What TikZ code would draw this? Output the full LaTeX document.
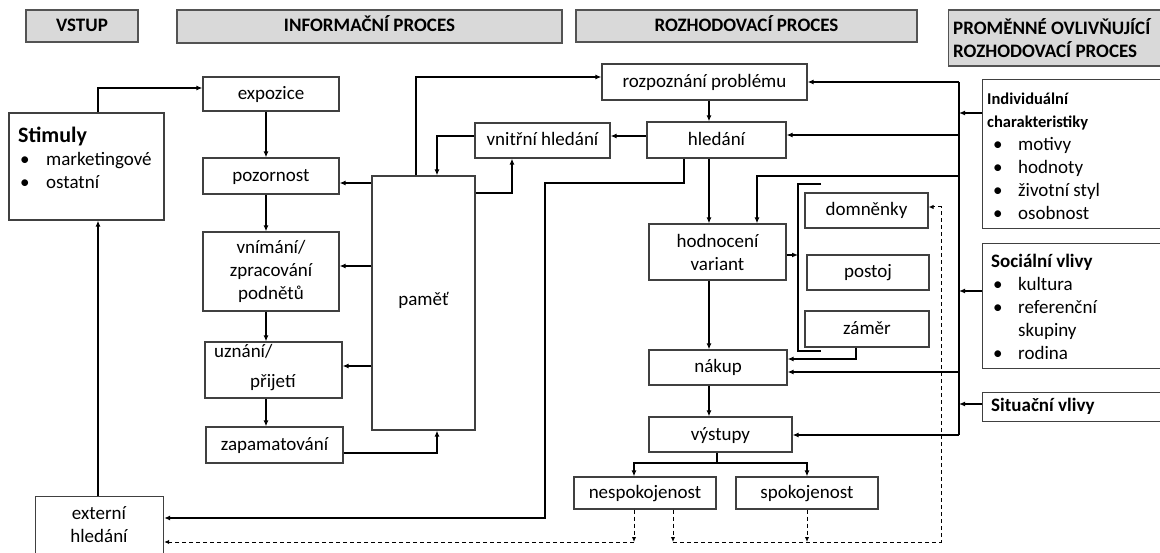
\documentclass[tikz,border=0pt]{standalone}
\usepackage{fontspec}
\setmainfont{Carlito}
\usetikzlibrary{arrows.meta}
\definecolor{hdrfill}{HTML}{D9D9D9}
\definecolor{edge}{HTML}{404040}
\begin{document}
\begin{tikzpicture}[x=1pt,y=-1pt,
  wh/.style 2 args={minimum width=#1, minimum height=#2},
  box/.style={draw=edge, line width=1.2pt, fill=white, inner sep=0pt, align=center,
              font=\fontsize{19}{23}\selectfont},
  one/.style={text height=15pt, text depth=4pt},
  hdr/.style={draw=edge!90, line width=1.2pt, fill=hdrfill, inner sep=0pt, one,
              font=\fontsize{19}{23}\selectfont\bfseries},
  txt/.style={inner sep=0pt, font=\fontsize{19}{23}\selectfont},
  conn/.style={line width=1.5pt, black},
  arr/.style={conn, -{Latex[length=6pt,width=5pt]}},
  darr/.style={line width=1pt, black, dash pattern=on 4pt off 3pt, -{Latex[length=5pt,width=4.5pt]}},
]
\useasboundingbox (0,0) rectangle (1160,553);
\clip (0,0) rectangle (1160,553);

% routing columns and rows
\foreach \v in {98,266,416,437,512,545,634,673,684,709,717,757,798,807,821,856,941,959}
  \coordinate (cx\v) at (\v,0);
\foreach \v in {77,82,88,113,135,136,176,183,184,193,207,255,266,291,351,359,366,372,404,435,453,463,518,542}
  \coordinate (ry\v) at (0,\v);

% column headers
\node[hdr, wh={112}{32}] (hvstup) at (82,26) {VSTUP};
\node[hdr, wh={385}{33}] (hinfo) at (369.5,26.5) {INFORMAČNÍ PROCES};
\node[hdr, wh={341}{32}] (hrozh) at (746.5,26) {ROZHODOVACÍ PROCES};
\node[hdr, wh={230}{56}, anchor=north west] (hprom) at (948,9.5) {};
\node[txt, font=\fontsize{19}{23}\selectfont\bfseries, anchor=west, align=left] (hpromtxt)
  at (953,38.5) {PROMĚNNÉ OVLIVŇUJÍCÍ\\ROZHODOVACÍ PROCES};

% input
\node[box, wh={155}{107}] (stim) at (86.5,166.5) {};
\node[txt, anchor=west, align=left] (stimtxt) at (18,158)
  {{\fontsize{22}{23}\selectfont\bfseries Stimuly}\\
   \hspace*{2pt}\makebox[26pt][l]{\textbullet}marketingové\\
   \hspace*{2pt}\makebox[26pt][l]{\textbullet}ostatní};
\node[box, wh={128}{80}, anchor=north west] (externi) at (35,496) {};
\node[txt, align=center] (externitxt) at (99,525) {externí\\hledání};

% information process
\node[box, one, wh={136}{34}] (expozice) at (271,94) {expozice};
\node[box, one, wh={136}{36}] (pozornost) at (271,176) {pozornost};
\node[box, wh={136}{79}] (vnimani) at (271,271.5) {vnímání/\\zpracování\\podnětů};
\node[box, wh={137}{56}] (uznani) at (273.5,370) {};
\node[txt, anchor=west, align=left] (uznanitxt) at (214,368) {uznání/\\[7pt]\hspace*{36pt}přijetí};
\node[box, one, wh={137}{36}] (zapam) at (274.5,445) {zapamatování};
\node[box, wh={103}{254}] (pamet) at (423.5,303) {};
\node[txt, one] (pamettxt) at (423.5,300) {paměť};
\node[box, one, wh={135}{35}] (vnitrni) at (542.5,140.5) {vnitřní hledání};

% decision process
\node[box, one, wh={205}{36}] (rozp) at (704.5,82) {rozpoznání problému};
\node[box, one, wh={139}{36}] (hledani) at (716.5,140) {hledání};
\node[box, wh={137}{56}] (hodnoc) at (717.5,252) {hodnocení\\variant};
\node[box, one, wh={138}{35}] (nakup) at (718,367.5) {nákup};
\node[box, one, wh={143}{35}] (vystupy) at (720.5,434.5) {výstupy};
\node[box, one, wh={142}{32}] (nesp) at (645,493) {nespokojenost};
\node[box, one, wh={142}{32}] (spok) at (807,493) {spokojenost};
\node[box, one, wh={123}{35}] (domn) at (866.5,210.5) {domněnky};
\node[box, one, wh={122}{35}] (postoj) at (868,272.5) {postoj};
\node[box, one, wh={124}{36}] (zamer) at (867,329) {záměr};

% influencing variables
\node[box, wh={190}{149}, anchor=north west] (indiv) at (982,79) {};
\node[txt, anchor=west, align=left] (indivtxt) at (987,156)
  {{\fontsize{16.5}{23}\selectfont\bfseries Individuální}\\
   {\fontsize{16.5}{23}\selectfont\bfseries charakteristiky}\\
   \hspace*{6pt}\makebox[25pt][l]{\textbullet}motivy\\
   \hspace*{6pt}\makebox[25pt][l]{\textbullet}hodnoty\\
   \hspace*{6pt}\makebox[25pt][l]{\textbullet}životní styl\\
   \hspace*{6pt}\makebox[25pt][l]{\textbullet}osobnost};
\node[box, wh={190}{125}, anchor=north west] (social) at (982,243) {};
\node[txt, anchor=west, align=left] (socialtxt) at (991,307)
  {\textbf{Sociální vlivy}\\
   \hspace*{2pt}\makebox[25pt][l]{\textbullet}kultura\\
   \hspace*{2pt}\makebox[25pt][l]{\textbullet}referenční\\
   \hspace*{27pt}skupiny\\
   \hspace*{2pt}\makebox[25pt][l]{\textbullet}rodina};
\node[box, wh={190}{29}, anchor=north west] (situ) at (982,392) {};
\node[txt, one, anchor=west] (situtxt) at (991,406) {\textbf{Situační vlivy}};

% information process connectors
\draw[arr] (stim.north -| cx98) |- (expozice.west |- ry88);
\draw[arr] (externi.north -| cx98) -- (stim.south -| cx98);
\draw[arr] (expozice.south -| cx266) -- (pozornost.north -| cx266);
\draw[arr] (pozornost.south -| cx266) -- (vnimani.north -| cx266);
\draw[arr] (vnimani.south -| cx266) -- (uznani.north -| cx266);
\draw[arr] (uznani.south -| cx266) -- (zapam.north -| cx266);
\draw[arr] (pamet.west |- ry183) -- (pozornost.east |- ry183);
\draw[arr] (pamet.west |- ry266) -- (vnimani.east |- ry266);
\draw[arr] (pamet.west |- ry366) -- (uznani.east |- ry366);
\draw[arr] (zapam.east |- ry453) -| (pamet.south -| cx437);
\draw[arr] (pamet.north -| cx416) |- (rozp.west |- ry77);
\draw[arr] (vnitrni.west |- ry136) -| (pamet.north -| cx437);
\draw[arr] (pamet.east |- ry193) -| (vnitrni.south -| cx512);

% decision process connectors
\draw[arr] (rozp.south -| cx709) -- (hledani.north -| cx709);
\draw[arr] (hledani.west |- ry136) -- (vnitrni.east |- ry136);
\draw[arr] (hledani.south -| cx684) |- (cx545 |- ry183) |- (externi.east |- ry518);
\draw[arr] (hledani.south -| cx709) -- (hodnoc.north -| cx709);
\draw[arr] (hodnoc.east |- ry255) -- (cx798 |- ry255);
\draw[conn] (cx821 |- ry184) -| (cx798 |- ry351) -- (cx821 |- ry351);
\draw[arr] (zamer.south -| cx856) |- (nakup.east |- ry359);
\draw[arr] (hodnoc.south -| cx709) -- (nakup.north -| cx709);
\draw[arr] (nakup.south -| cx709) -- (vystupy.north -| cx709);
\draw[conn] (vystupy.south -| cx717) -- (cx717 |- ry463);
\draw[arr] (cx717 |- ry463) -| (nesp.north -| cx634);
\draw[arr] (cx717 |- ry463) -| (spok.north -| cx807);

% influence bus
\draw[conn] (cx959 |- ry82) -- (cx959 |- ry435);
\draw[arr] (cx959 |- ry82) -- (rozp.east |- ry82);
\draw[arr] (cx959 |- ry135) -- (hledani.east |- ry135);
\draw[arr] (cx959 |- ry176) -| (hodnoc.north -| cx757);
\draw[arr] (cx959 |- ry372) -- (nakup.east |- ry372);
\draw[arr] (cx959 |- ry435) -- (vystupy.east |- ry435);
\draw[arr] (indiv.west |- ry113) -- (cx959 |- ry113);
\draw[arr] (social.west |- ry291) -- (cx959 |- ry291);
\draw[arr] (situ.west |- ry404) -- (cx959 |- ry404);

% feedback (dashed)
\draw[darr] (nesp.south -| cx634) -- (cx634 |- ry542);
\draw[darr] (cx634 |- ry542) -- (externi.east |- ry542);
\draw[darr] (nesp.south -| cx673) -- (cx673 |- ry542);
\draw[darr] (spok.south -| cx807) -- (cx807 |- ry542);
\draw[darr] (cx673 |- ry542) -| (cx941 |- ry207) -- (domn.east |- ry207);
\end{tikzpicture}
\end{document}
